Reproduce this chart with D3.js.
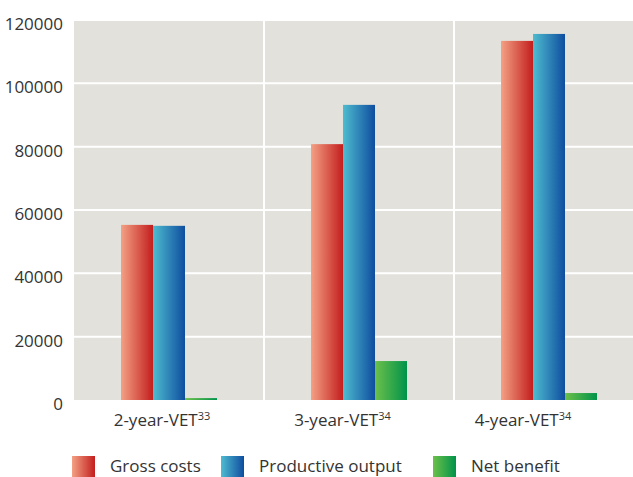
<!DOCTYPE html>
<html>
<head>
<meta charset="utf-8">
<script src="https://cdn.jsdelivr.net/npm/d3@7"></script>
<style>
  html, body { margin: 0; padding: 0; background: #ffffff; }
  svg { display: block; }
  text { font-family: "Open Sans", "Noto Sans", sans-serif; fill: #333333; }
</style>
</head>
<body>
<svg id="chart" width="633" height="477"></svg>
<script>
// Programme categories and their footnote markers
const categories = ["2-year-VET", "3-year-VET", "4-year-VET"];
const footnotes = ["33", "34", "34"];

// Series (values per category)
const seriesNames = ["Gross costs", "Productive output", "Net benefit"];
const grossCosts = [55300, 80800, 113400];
const productiveOutput = [55000, 93200, 115600];
const netBenefit = [600, 12300, 2200];

// Y axis ticks
const yTicks = [0, 20000, 40000, 60000, 80000, 100000, 120000];

const seriesValues = [grossCosts, productiveOutput, netBenefit];
const gradients = [
  ["#f3a185", "#c31e1e"],
  ["#4ebccf", "#0f4d9f"],
  ["#6cc04a", "#00934a"]
];

const svg = d3.select("#chart");
const plot = { left: 74, top: 20, right: 644, bottom: 400 };

const x0 = d3.scaleBand().domain(categories).range([plot.left, plot.right]).padding(0);
const x1 = d3.scaleBand().domain(seriesNames).range([47, 143]).padding(0);
const y = d3.scaleLinear().domain([0, 120000]).range([plot.bottom, plot.top]);

// Horizontal gradient definitions
const defs = svg.append("defs");
gradients.forEach((g, i) => {
  const lg = defs.append("linearGradient")
    .attr("id", "grad" + i)
    .attr("x1", "0%").attr("x2", "100%").attr("y1", "0%").attr("y2", "0%");
  lg.append("stop").attr("offset", "0%").attr("stop-color", g[0]);
  lg.append("stop").attr("offset", "100%").attr("stop-color", g[1]);
});

// Plot background
svg.append("rect")
  .attr("x", plot.left).attr("y", y(120000) + 1)
  .attr("width", plot.right - plot.left)
  .attr("height", plot.bottom - y(120000) - 1)
  .attr("fill", "#e2e1db");

// Horizontal gridlines
svg.append("g").selectAll("line")
  .data(yTicks.filter(t => t > 0 && t < 120000))
  .join("line")
  .attr("x1", plot.left).attr("x2", plot.right)
  .attr("y1", d => y(d)).attr("y2", d => y(d))
  .attr("stroke", "#ffffff").attr("stroke-width", 2);

// Vertical separators between categories
svg.append("g").selectAll("line")
  .data(categories.slice(1))
  .join("line")
  .attr("x1", d => x0(d)).attr("x2", d => x0(d))
  .attr("y1", y(120000)).attr("y2", plot.bottom)
  .attr("stroke", "#ffffff").attr("stroke-width", 2);

// Bars
const groups = svg.append("g").selectAll("g")
  .data(categories)
  .join("g")
  .attr("transform", d => `translate(${x0(d)},0)`);

groups.selectAll("rect")
  .data((c, ci) => seriesNames.map((s, si) => ({ s, si, v: seriesValues[si][ci] })))
  .join("rect")
  .attr("x", d => x1(d.s))
  .attr("width", x1.bandwidth())
  .attr("y", d => y(d.v))
  .attr("height", d => y(0) - y(d.v))
  .attr("fill", d => `url(#grad${d.si})`);

// Y axis labels
const yAxis = d3.axisLeft(y).tickValues(yTicks).tickSize(0).tickPadding(11).tickFormat(d3.format("d"));
const yG = svg.append("g").attr("transform", `translate(${plot.left},0)`).call(yAxis);
yG.select(".domain").remove();
yG.selectAll("text")
  .attr("font-size", 17)
  .attr("font-family", "\"Open Sans\", sans-serif")
  .attr("fill", "#333333")
  .attr("dy", "0.55em");

// Category labels with superscript footnotes
const labelX = d3.scalePoint().domain(categories).range([162, 523]);
const catLabels = svg.append("g").selectAll("text")
  .data(categories)
  .join("text")
  .attr("x", d => labelX(d))
  .attr("y", 426)
  .attr("text-anchor", "middle")
  .attr("font-size", 17);
catLabels.append("tspan").text(d => d);
catLabels.append("tspan")
  .attr("font-size", 11)
  .attr("dy", -6)
  .text((d, i) => footnotes[i]);

// Legend
const legendX = [72, 221, 433];
const legend = svg.append("g").selectAll("g")
  .data(seriesNames)
  .join("g")
  .attr("transform", (d, i) => `translate(${legendX[i]},456)`);
legend.append("rect")
  .attr("width", 23).attr("height", 21)
  .attr("fill", (d, i) => `url(#grad${i})`);
legend.append("text")
  .attr("x", 38).attr("y", 16)
  .attr("font-size", 17)
  .text(d => d);
</script>
</body>
</html>
